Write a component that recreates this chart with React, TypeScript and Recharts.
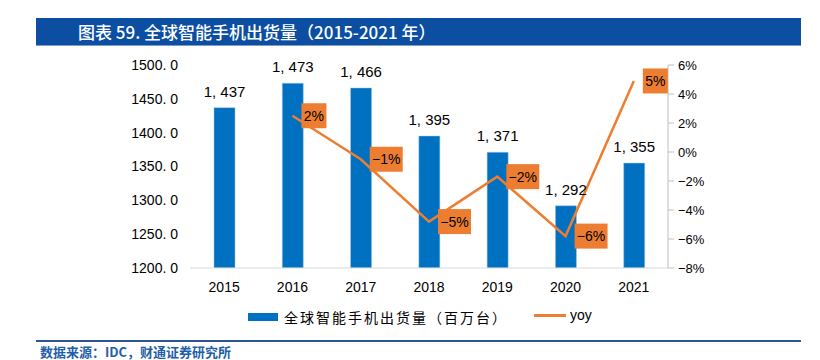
import React from 'react';
import { ComposedChart, Bar, Line, XAxis, YAxis, LabelList } from 'recharts';

const years = ['2015', '2016', '2017', '2018', '2019', '2020', '2021'];
const shipments = [1437, 1473, 1466, 1395, 1371, 1292, 1355];
const yoy = [null, 2.5, -0.5, -4.8, -1.7, -5.8, 4.9];
const yoyLabels = ['', '2%', '−1%', '−5%', '−2%', '−6%', '5%'];
const leftTicks = [1200, 1250, 1300, 1350, 1400, 1450, 1500];
const rightTicks = [-8, -6, -4, -2, 0, 2, 4, 6];

const data = years.map((y, i) => ({ year: y, ship: shipments[i], yoy: yoy[i], yoyLabel: yoyLabels[i] }));

const BLUE = '#0070C0';
const ORANGE = '#ED7D31';
const FONT = 'Arial, "Liberation Sans", "Noto Sans CJK SC", sans-serif';

const fmtShip = (v: number) => {
  const s = v.toLocaleString('en-US');
  return s.replace(',', ', ');
};

const ShipLabel = (props: any) => {
  const { x, y, width, value } = props;
  if (x == null || y == null) return null;
  return (
    <text x={x + width / 2} y={y - 11} textAnchor="middle" fontSize={15} fill="#000" fontFamily={FONT}>
      {fmtShip(Number(value))}
    </text>
  );
};

const YoyLabel = (props: any) => {
  const { x, y, index } = props;
  const t = yoyLabels[index];
  if (!t || x == null || y == null) return null;
  const w = t.length >= 3 ? 33 : 25;
  const h = 25;
  return (
    <g>
      <rect x={x + 9} y={y - h / 2} width={w} height={h} fill={ORANGE} />
      <text x={x + 9 + w / 2} y={y + 5} textAnchor="middle" fontSize={14} fill="#000" fontFamily={FONT}>
        {t}
      </text>
    </g>
  );
};

export default function App() {
  return (
    <div style={{ position: 'absolute', left: 0, top: 0, width: 820, height: 360, background: '#fff', fontFamily: FONT, overflow: 'hidden' }}>
      <div style={{ position: 'absolute', left: 36, top: 18, width: 765, height: 27, background: '#0B4EA2' }} />
      <div style={{ position: 'absolute', left: 36, top: 45, width: 765, height: 1, background: '#7F9CC8' }} />
      <div style={{ position: 'absolute', left: 78, top: 19, height: 26, lineHeight: '26px', color: '#fff', fontSize: 17, fontWeight: 500, fontFamily: '"Noto Sans CJK SC", sans-serif', whiteSpace: 'nowrap' }}>
        图表 59. 全球智能手机出货量（2015-2021 年）
      </div>
      <div style={{ position: 'absolute', left: 0, top: 0 }}>
        <ComposedChart width={820} height={360} data={data} margin={{ top: 65, right: 100, left: 0, bottom: 62 }}>
          <XAxis dataKey="year" tickLine={false} axisLine={{ stroke: '#D9D9D9' }} tick={{ fontSize: 14, fill: '#000', fontFamily: FONT }} tickMargin={8} height={30} />
          <YAxis yAxisId="left" orientation="left" domain={[1200, 1500]} ticks={leftTicks} width={190} axisLine={false} tickLine={false} tickMargin={6}
            tickFormatter={(v: number) => v.toFixed(1).replace('.', '. ')} tick={{ fontSize: 14, fill: '#000', fontFamily: FONT }} allowDataOverflow />
          <YAxis yAxisId="right" orientation="right" domain={[-8, 6]} ticks={rightTicks} width={52} axisLine={{ stroke: '#BFBFBF' }} tickLine={{ stroke: '#BFBFBF' }} tickSize={6} tickMargin={4}
            tickFormatter={(v: number) => (v < 0 ? '−' + Math.abs(v) : String(v)) + '%'} tick={{ fontSize: 13, fill: '#000', fontFamily: FONT }} />
          <Bar yAxisId="left" dataKey="ship" fill={BLUE} stroke="#9DC3E6" strokeWidth={0.5} barSize={21} isAnimationActive={false}>
            <LabelList dataKey="ship" content={<ShipLabel />} />
          </Bar>
          <Line yAxisId="right" dataKey="yoy" stroke={ORANGE} strokeWidth={2.5} dot={false} activeDot={false} isAnimationActive={false} connectNulls={false}>
            <LabelList dataKey="yoy" content={<YoyLabel />} />
          </Line>
        </ComposedChart>
      </div>
      <div style={{ position: 'absolute', left: 248, top: 307, display: 'flex', alignItems: 'center', fontSize: 14, whiteSpace: 'nowrap' }}>
        <div style={{ width: 30, height: 8, background: BLUE, marginRight: 6 }} />
        <span style={{ fontFamily: '"Noto Sans CJK SC", sans-serif', letterSpacing: 2, fontSize: 14 }}>全球智能手机出货量（百万台）</span>
      </div>
      <div style={{ position: 'absolute', left: 534, top: 307, display: 'flex', alignItems: 'center', fontSize: 14, whiteSpace: 'nowrap' }}>
        <div style={{ width: 32, height: 3, background: ORANGE, marginRight: 4 }} />
        <span style={{ fontFamily: FONT, fontSize: 14 }}>yoy</span>
      </div>
      <div style={{ position: 'absolute', left: 36, top: 340, width: 765, height: 1.5, background: '#2F5597' }} />
      <div style={{ position: 'absolute', left: 40, top: 344, height: 16, lineHeight: '16px', color: '#1F5FA8', fontSize: 13, fontWeight: 600, fontFamily: '"Noto Sans CJK SC", sans-serif', whiteSpace: 'nowrap' }}>
        数据来源：IDC，财通证券研究所
      </div>
    </div>
  );
}
